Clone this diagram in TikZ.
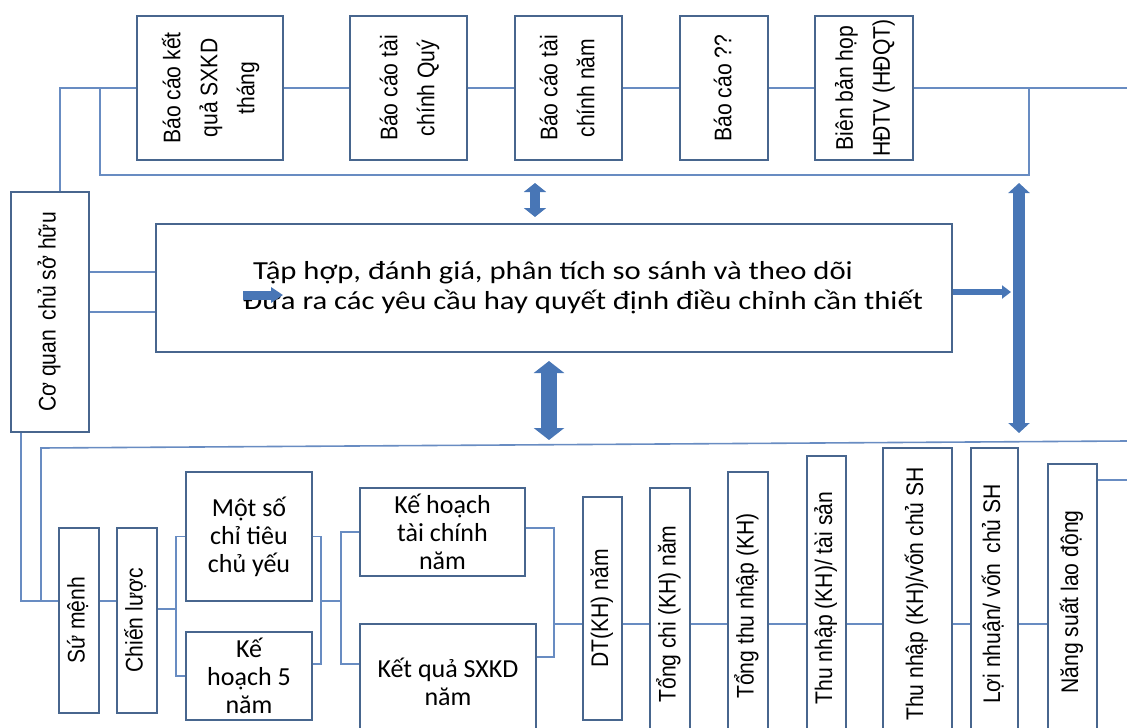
\documentclass[tikz,border=0pt]{standalone}
\usepackage{fontspec}
\usepackage{graphicx}
\setmainfont{Liberation Sans}[FakeStretch=0.88]
\newfontfamily\calibri{Carlito}
\newfontfamily\widecalibri{Carlito}[FakeStretch=1.18]
\usetikzlibrary{arrows.meta}
\definecolor{boxline}{RGB}{72,102,142}
\definecolor{linkblue}{RGB}{104,140,194}
\definecolor{arrowfill}{RGB}{72,118,182}
\tikzstyle{box}=[draw=boxline,line width=1.8pt,inner sep=0pt,align=center]
\tikzstyle{top box}=[box,minimum height=144,font=\fontsize{24}{37}\selectfont]
\tikzstyle{bar box}=[box,font=\fontsize{24}{28}\selectfont]
\tikzstyle{plan box}=[box,font=\calibri\fontsize{26}{28}\selectfont]
\tikzstyle{link}=[draw=linkblue,line width=1.6pt]
\tikzstyle{fat arrow}=[draw=arrowfill,line cap=butt]
\newcommand{\vlabel}[1]{\rotatebox{90}{\begin{tabular}{@{}c@{}}#1\end{tabular}}}

\begin{document}
\begin{tikzpicture}[x=1pt,y=-1pt]
    \useasboundingbox (0,0) rectangle (1127,728);
    % First we draw the report boxes on top
    \foreach \pos/\bw/\name/\txt in {{(210,88)/146/month/{Báo cáo kết\\quả SXKD\\tháng}}, {(408.5,88)/117/quarter/{Báo cáo tài\\chính Quý}}, {(568.5,88)/107/year/{Báo cáo tài\\chính năm}}, {(724,88)/88/other/{Báo cáo ??}}, {(864,88)/98/minutes/{Biên bản họp\\HĐTV (HĐQT)}}}
        \node[top box,minimum width=\bw] (\name) at \pos {\vlabel{\txt}};

    \node[bar box,minimum width=78,minimum height=240] (owner) at (50,312) {\vlabel{Cơ quan\, chủ sở hữu}};
    \node[box,minimum width=796,minimum height=128] (big) at (554,288) {};
    \node[anchor=west,inner sep=0pt,align=left,font=\widecalibri\fontsize{26}{30}\selectfont] (bigtext) at (243,288)
        {\hspace{10pt}Tập hợp, đánh giá, phân tích so sánh và theo dõi\\Đưa ra các yêu cầu hay quyết định điều chỉnh cần thiết};

    % Plan boxes at the bottom
    \foreach \pos/\bw/\bh/\name/\txt in {{(79,620.5)/40/185/mission/{Sứ mệnh}}, {(137,620.5)/40/185/strategy/{Chiến lược}}, {(602.5,608.5)/39/223/revenue/{DT(KH) năm}}, {(670,614)/40/252/cost/{Tổng chi (KH) năm}}, {(748,606)/40/268/income/{Tổng thu nhập (KH)}}, {(826.5,598)/39/284/assets/{Thu nhập (KH)/ tài sản}}, {(917.5,594)/69/292/equity/{Thu nhập (KH)/vốn chủ SH}}, {(994.5,594)/47/292/profit/{Lợi nhuận/ vốn\, chủ SH}}, {(1072.5,602)/49/276/labour/{Năng suất lao động}}}
        \node[bar box,minimum width=\bw,minimum height=\bh] (\name) at \pos {\vlabel{\txt}};

    \foreach \pos/\bw/\bh/\name/\txt in {{(249,536.5)/126/129/targets/{Một số\\chỉ tiêu\\chủ yếu}}, {(249,676)/126/88/fiveyear/{Kế\\hoạch 5\\năm}}, {(442.5,532)/165/88/finplan/{Kế hoạch\\tài chính\\năm}}, {(448,682)/176/116/result/{Kết quả SXKD\\năm}}}
        \node[plan box,minimum width=\bw,minimum height=\bh] (\name) at \pos {\txt};

    % Junction points
    \coordinate (topL) at (60,88);
    \coordinate (topR) at (1127,88);
    \coordinate (frameL) at (100,175);
    \coordinate (frameR) at (1029,175);
    \coordinate (sidein) at (1011,292);
    \coordinate (botL) at (41,448);
    \coordinate (botR) at (1127,441);
    \coordinate (outL) at (21,601);
    \coordinate (forkA) at (176,609);
    \coordinate (mergeA) at (321,601);
    \coordinate (forkB) at (341,601);
    \coordinate (mergeB) at (554,624);
    \coordinate (endR) at (1127,480);
    \coordinate (upA) at (535,183);
    \coordinate (upB) at (535,217);
    \coordinate (downA) at (549,361);
    \coordinate (downB) at (549,440);
    \coordinate (sideA) at (1019,183);
    \coordinate (sideB) at (1019,433);
    \coordinate (markA) at (243,295);
    \coordinate (markB) at (283,295);

    % Connect boxes with lines
    \path[link] (owner.north -| topL) -- (topL) -- (month.west);
    \foreach \source/\dest in {month/quarter, quarter/year, year/other, other/minutes}
        \path[link] (\source) -- (\dest);
    \path[link] (minutes.east) -- (topR);
    \path[link] (frameL |- topL) -- (frameL) -- (frameR) -- (frameR |- topR);
    \path[link] (owner.east |- 0,272) -- (big.west |- 0,272);
    \path[link] (owner.east) -- (owner.east -| big.west);

    \path[link] (owner.south -| outL) -- (outL) -- (mission.west |- outL);
    \path[link] (botR) -- (botL) -- (botL |- outL);
    \path[link] (mission.east |- outL) -- (strategy.west |- outL);
    \path[link] (strategy.east |- forkA) -- (forkA);
    \path[link] (targets.west) -| (forkA);
    \path[link] (fiveyear.west) -| (forkA);
    \path[link] (targets.east) -| (mergeA);
    \path[link] ([yshift=12pt]fiveyear.east) -| (mergeA);
    \path[link] (mergeA) -- (forkB);
    \path[link] (finplan.west) -| (forkB);
    \path[link] ([yshift=18pt]result.west) -| (forkB);
    \path[link] ([yshift=4pt]finplan.east) -| (mergeB);
    \path[link] ([yshift=25pt]result.east) -| (mergeB);
    \path[link] (mergeB) -- (mergeB -| revenue.west);
    \foreach \source/\dest in {revenue/cost, cost/income, income/assets, assets/equity, equity/profit, profit/labour}
        \path[link] (\source.east |- mergeB) -- (\dest.west |- mergeB);
    \path[link] (endR -| labour.east) -- (endR);

    % Big arrows
    \path[fat arrow,line width=10pt,{Triangle[width=22pt,length=9pt]}-{Triangle[width=22pt,length=9pt]}] (upA) -- (upB);
    \path[fat arrow,line width=16pt,{Triangle[width=30pt,length=12pt]}-{Triangle[width=30pt,length=12pt]}] (downA) -- (downB);
    \path[fat arrow,line width=12pt,{Triangle[width=21pt,length=10pt]}-{Triangle[width=21pt,length=10pt]}] (sideA) -- (sideB);
    \path[fat arrow,line width=9pt,-{Triangle[width=15pt,length=12pt]}] (markA) -- (markB);
    \path[fat arrow,line width=6pt,-{Triangle[width=13pt,length=9pt]}] (big.east |- sidein) -- (sidein);
\end{tikzpicture}
\end{document}
